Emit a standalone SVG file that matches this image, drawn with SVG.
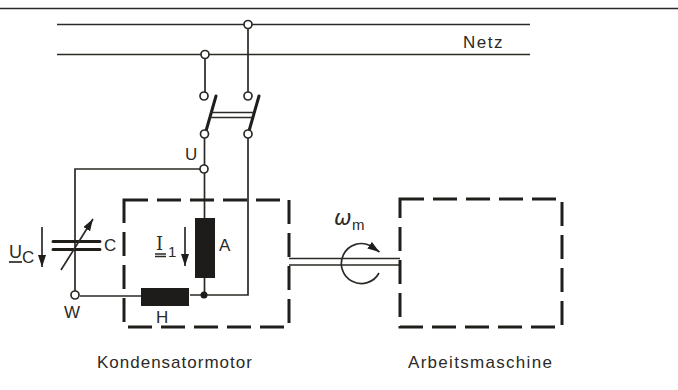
<svg xmlns="http://www.w3.org/2000/svg" width="678" height="390" viewBox="0 0 678 390">
<style>
.w{fill:none;stroke:#2b2a26;stroke-width:1.700}
.b{fill:none;stroke:#1f1e1b;stroke-width:3;stroke-linecap:round}
.d{fill:none;stroke:#1f1e1b;stroke-width:3;stroke-dasharray:24 9}
.t{fill:#fff;stroke:#2b2a26;stroke-width:1.700}
.k{fill:#1d1c1a;stroke:none}
text{font-family:"Liberation Sans",Arial,sans-serif;fill:#2b2a26;font-size:17px}
</style>
<defs>
<marker id="ah" markerUnits="userSpaceOnUse" markerWidth="14" markerHeight="10" refX="12" refY="4" orient="auto"><path d="M0 0L12 4L0 8Z" fill="#1f1e1b"/></marker>
</defs>
<rect width="678" height="390" fill="#fff"/>
<g id="connectors">
<path class="w" d="M0 8.500H678"/>
<path class="w" d="M57 24.500H530M57 54.500H530"/>
<path class="w" d="M248 24V96M205 54V96"/>
<path class="b" d="M216 96L206 131M259 96L249 131"/>
<path class="w" d="M210 112.500H254M209 117.500H253"/>
<path class="w" d="M204.500 134V218M248 134V295H190"/>
<path class="w" d="M204 169H75V295"/>
<path class="w" d="M204.500 278V295M80 296H141"/>
<path class="w" d="M289 258.500H400M289 265H400"/>
</g>
<g id="netz"><text x="463" y="47.500" letter-spacing="1.500">Netz</text></g>
<g id="terminals">
<circle class="t" cx="248" cy="24.500" r="4"/>
<circle class="t" cx="205" cy="54.500" r="4"/>
<circle class="t" cx="204" cy="96" r="4"/>
<circle class="t" cx="248" cy="96" r="4"/>
<circle class="t" cx="204.500" cy="134" r="4"/>
<circle class="t" cx="248" cy="134" r="4"/>
</g>
<g id="node-u"><circle class="t" cx="204" cy="169" r="4"/><text x="185" y="160">U</text></g>
<g id="capacitor">
<path class="b" d="M53 241.500H100M53 249.500H100"/>
<path class="w" d="M61 270L93 219" marker-end="url(#ah)"/>
<text x="104" y="251">C</text>
</g>
<g id="uc">
<path class="w" d="M42 227V267" marker-end="url(#ah)"/>
<text x="9" y="258" style="font-size:18px">U</text><path class="w" d="M9 262H22"/><text x="22" y="263" style="font-size:17px">C</text>
</g>
<g id="node-w"><circle class="t" cx="75" cy="295" r="4"/><text x="64" y="318">W</text></g>
<g id="kondensatormotor">
<rect class="d" x="124" y="200" width="165" height="127"/>
<rect class="k" x="195" y="218" width="20" height="60"/>
<rect class="k" x="141" y="288" width="48" height="18"/>
<circle class="k" cx="204" cy="295" r="3.500"/>
<text x="219" y="251">A</text>
<text x="156" y="323">H</text>
<path class="w" d="M185 227V266" marker-end="url(#ah)"/>
<text x="156" y="250" style="font-size:18px;font-family:'DejaVu Serif',serif">I</text><path class="w" d="M155 254H166M155 256.500H166"/><text x="168" y="257" style="font-size:15px">1</text>
<text x="97" y="368" letter-spacing="1">Kondensatormotor</text>
</g>
<g id="shaft">
<text x="334" y="225" style="font-size:21px;font-style:italic;font-family:'DejaVu Sans',sans-serif">ω</text><text x="352" y="230" style="font-size:15px">m</text>
<path class="w" d="M379 273A20 20 0 1 1 370 245.500L379.500 252" marker-end="url(#ah)"/>
</g>
<g id="arbeitsmaschine">
<rect class="d" x="400" y="199" width="162" height="128"/>
<text x="408" y="368" letter-spacing="1.300">Arbeitsmaschine</text>
</g>
</svg>
